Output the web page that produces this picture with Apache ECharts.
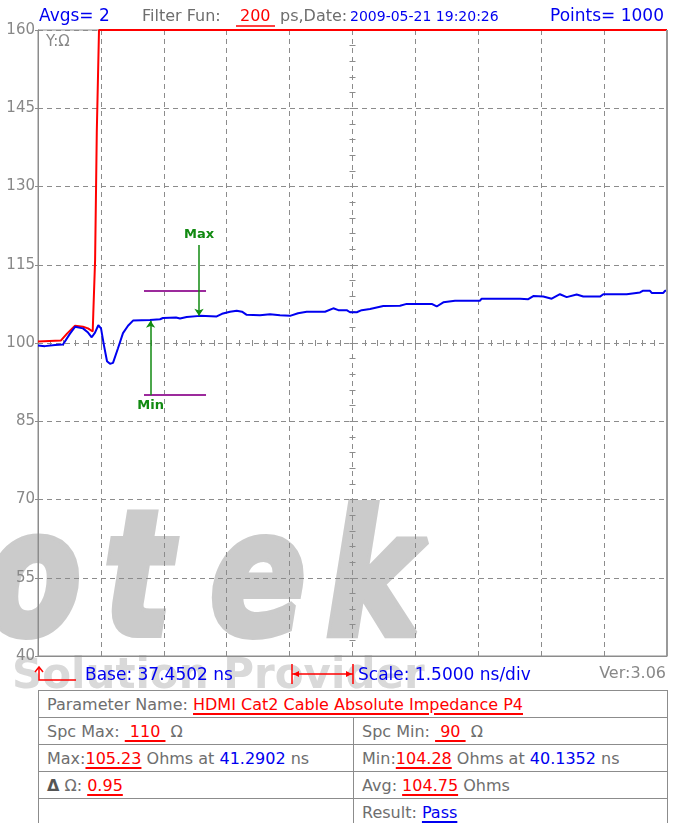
<!DOCTYPE html>
<html>
<head>
<meta charset="utf-8">
<script src="https://cdn.jsdelivr.net/npm/echarts@6/dist/echarts.min.js"></script>
<style>
  body { margin: 0; background: #fff; }
  #wrap { position: relative; width: 676px; height: 823px; overflow: hidden; }
  #chart { position: absolute; left: 0; top: 0; width: 676px; height: 823px; }
  table.params {
    position: absolute; left: 38px; top: 690px; width: 630px;
    border-collapse: collapse; background: #fff;
    font: 16px "DejaVu Sans", sans-serif; color: #6e6e6e;
  }
  table.params td { border: 1.5px solid #8c8c8c; height: 26px; padding: 0 0 0 8px; white-space: nowrap; }
  .r { color: #f00; text-decoration: underline; text-decoration-thickness: 1.5px; text-underline-offset: 3px; }
  .b { color: #0000f0; }
  .u { text-decoration: underline; text-decoration-thickness: 1.5px; text-underline-offset: 3px; }
</style>
</head>
<body>
<div id="wrap">
  <div id="chart"></div>
  <table class="params" id="params"></table>
</div>
<script>
// time base and scale of the screen (ns)
const BASE_NS = 37.4502;
const NS_PER_DIV = 1.5;
const DIVS = 10;
const yTicks = [40, 55, 70, 85, 100, 115, 130, 145, 160];

// blue trace: impedance (ohm) vs time (ns)
const traceTime = [37.450, 37.617, 37.856, 38.046, 38.213, 38.333, 38.523, 38.643, 38.731, 38.810,
  38.888, 38.953, 39.024, 39.096, 39.167, 39.239, 39.358, 39.477, 39.597, 39.716,
  40.121, 40.360, 40.431, 40.741, 40.837, 40.996, 41.314, 41.712, 41.838, 42.029,
  42.189, 42.315, 42.427, 42.744, 42.983, 43.221, 43.460, 43.651, 43.858, 44.295,
  44.492, 44.612, 44.812, 44.891, 45.051, 45.170, 45.368, 45.685, 46.083, 46.243,
  46.839, 46.958, 47.116, 47.395, 47.991, 48.031, 48.945, 49.142, 49.262, 49.500,
  49.700, 49.898, 50.058, 50.296, 50.454, 50.852, 50.931, 51.489, 51.528, 51.807,
  51.871, 52.045, 52.085, 52.362, 52.402, 52.450];
const traceOhm = [99.5, 99.4, 99.6, 99.7, 101.8, 103.1, 102.8, 102.0, 101.1, 102.0,
  103.4, 102.8, 99.5, 96.5, 96.0, 96.2, 99.0, 101.9, 103.3, 104.3,
  104.4, 104.55, 104.8, 104.9, 104.7, 105.0, 105.2, 105.1, 105.6, 106.0,
  106.2, 106.0, 105.4, 105.3, 105.5, 105.3, 105.2, 105.7, 106.0, 106.0,
  106.65, 106.3, 106.3, 105.9, 105.9, 106.3, 106.5, 107.1, 107.15, 107.5,
  107.5, 107.0, 107.8, 108.1, 108.1, 108.5, 108.5, 108.4, 109.0, 108.9,
  108.5, 109.35, 108.8, 109.3, 108.9, 108.9, 109.35, 109.35, 109.7, 109.7,
  110.0, 110.0, 109.6, 109.6, 110.0, 110.0];

// red trace (open end reference)
const refTime = [37.450, 37.999, 38.142, 38.333, 38.523, 38.643, 38.755, 38.769, 38.805, 38.812,
  38.845, 38.852, 38.895, 38.905, 52.450];
const refOhm = [100.3, 100.5, 101.8, 103.3, 103.1, 102.8, 102.2, 105.7, 105.9, 115.9,
  116.2, 140.3, 140.6, 160, 160];

// spec limits and measured max / min
const specMax = 110;
const specMin = 90;
const specSpanNs = [39.978, 41.457];
const maxPoint = [41.2902, 105.23];
const minPoint = [40.1352, 104.28];
const markerEnds = [118.8, 90];
const deltaOhm = 0.95;
const avgOhm = 104.75;
const paramName = 'HDMI Cat2 Cable Absolute Impedance P4';

const GRAY = '#8c8c8c';
const TXT = '#6e6e6e';
const BLUE = '#0000f0';
const RED = '#ff0000';
const GREEN = '#118a11';
const PURPLE = '#9c2a9c';

const toXY = (ts, vs) => ts.map((t, i) => [t - BASE_NS, vs[i]]);

function txt(x, y, text, color, size, align) {
  return {
    type: 'text', x: x, y: y, z: 10, silent: true,
    style: { text: text, fill: color, font: size + 'px "DejaVu Sans"', align: align || 'left', verticalAlign: 'middle' }
  };
}
function seg(points, color, w) {
  return { type: 'polyline', z: 10, silent: true, shape: { points: points }, style: { stroke: color, lineWidth: w || 1.5, fill: null } };
}
function mark(x, ch) {
  return {
    type: 'text', x: x, y: 589, scaleX: 0.82, z: -1, silent: true,
    style: { text: ch, font: 'italic bold 172px "DejaVu Sans"', fill: '#cbcbcb', stroke: '#cbcbcb', lineWidth: 8, verticalAlign: 'middle' }
  };
}

const chart = echarts.init(document.getElementById('chart'));

const xMax = NS_PER_DIV * DIVS;

chart.setOption({
  animation: false,
  grid: { left: 38, top: 30, width: 629, height: 626, show: true, borderColor: GRAY, borderWidth: 1 },
  xAxis: [
    {
      type: 'value', min: 0, max: xMax, interval: NS_PER_DIV,
      axisLine: { show: true, onZero: false, lineStyle: { color: GRAY } },
      axisTick: { show: false }, axisLabel: { show: false },
      splitLine: { show: true, lineStyle: { color: GRAY, type: [5, 4], width: 1 } }
    },
    {
      // minor ticks along the centre horizontal line
      type: 'value', min: 0, max: xMax, interval: NS_PER_DIV, position: 'bottom', offset: -316,
      axisLine: { show: false, onZero: false },
      axisTick: { show: true, length: 6, lineStyle: { color: GRAY } },
      minorTick: { show: true, splitNumber: 5, length: 6, lineStyle: { color: GRAY } },
      axisLabel: { show: false }, splitLine: { show: false }
    }
  ],
  yAxis: [
    {
      type: 'value', min: yTicks[0], max: yTicks[yTicks.length - 1], interval: 15,
      axisLine: { show: true, onZero: false, lineStyle: { color: GRAY } },
      axisTick: { show: true, length: 3, lineStyle: { color: GRAY } },
      axisLabel: { color: '#888', fontSize: 15, fontFamily: 'DejaVu Sans', margin: 3 },
      splitLine: { show: true, lineStyle: { color: GRAY, type: [5, 4], width: 1 } }
    },
    {
      // minor ticks along the centre vertical line
      type: 'value', min: yTicks[0], max: yTicks[yTicks.length - 1], interval: 15, position: 'left', offset: -317.5,
      axisLine: { show: false, onZero: false },
      axisTick: { show: true, length: 6, lineStyle: { color: GRAY } },
      minorTick: { show: true, splitNumber: 5, length: 6, lineStyle: { color: GRAY } },
      axisLabel: { show: false }, splitLine: { show: false }
    }
  ],
  series: [
    {
      name: 'Reference', type: 'line', data: toXY(refTime, refOhm),
      showSymbol: false, z: 3,
      lineStyle: { color: RED, width: 2 }
    },
    {
      name: 'Impedance', type: 'line', data: toXY(traceTime, traceOhm),
      showSymbol: false, z: 4,
      lineStyle: { color: BLUE, width: 2 },
      markLine: {
        silent: true, animation: false, symbol: ['none', 'none'], symbolSize: 7,
        label: { show: false },
        data: [
          [{ coord: [specSpanNs[0] - BASE_NS, specMax], lineStyle: { color: PURPLE, width: 2, type: 'solid' } },
           { coord: [specSpanNs[1] - BASE_NS, specMax] }],
          [{ coord: [specSpanNs[0] - BASE_NS, specMin], lineStyle: { color: PURPLE, width: 2, type: 'solid' } },
           { coord: [specSpanNs[1] - BASE_NS, specMin] }],
          [{ coord: [maxPoint[0] - BASE_NS, markerEnds[0]], symbol: 'none',
             lineStyle: { color: GREEN, width: 1.5, type: 'solid' },
             label: { show: true, formatter: 'Max', position: 'start', color: GREEN, fontSize: 13, fontWeight: 'bold', fontFamily: 'DejaVu Sans', distance: 4 } },
           { coord: [maxPoint[0] - BASE_NS, maxPoint[1]], symbol: 'arrow' }],
          [{ coord: [minPoint[0] - BASE_NS, markerEnds[1]], symbol: 'none',
             lineStyle: { color: GREEN, width: 1.5, type: 'solid' },
             label: { show: true, formatter: 'Min', position: 'start', color: GREEN, fontSize: 13, fontWeight: 'bold', fontFamily: 'DejaVu Sans', distance: 4 } },
           { coord: [minPoint[0] - BASE_NS, minPoint[1]], symbol: 'arrow' }]
        ]
      }
    }
  ],
  graphic: [
    // watermark
    mark(-16, 'o'), mark(104, 't'), mark(210, 'e'), mark(326, 'k'),
    { type: 'text', x: 12, y: 677, z: -1, silent: true,
      style: { text: 'Solution Provider', font: 'bold 42px "DejaVu Sans"', fill: '#d9d9d9', verticalAlign: 'middle' } },
    // header
    txt(39, 17, 'Avgs= 2', BLUE, 17),
    txt(142, 17, 'Filter Fun:', TXT, 16),
    txt(240, 17, '200', RED, 16),
    seg([[236, 26], [275, 26]], RED, 1.5),
    txt(280, 17, 'ps,Date:', TXT, 16),
    txt(350, 17, '2009-05-21 19:20:26', BLUE, 14),
    txt(664, 17, 'Points= 1000', BLUE, 17, 'right'),
    txt(46, 42, 'Y:Ω', '#888', 15),
    // right border
    seg([[667, 30], [667, 656]], '#999', 2),
    // base marker
    seg([[39, 668], [39, 680], [76, 680]], RED, 1.5),
    seg([[35, 672], [39, 667], [43, 672]], RED, 1.5),
    txt(85, 676, 'Base: ' + BASE_NS.toFixed(4) + ' ns', BLUE, 17),
    // scale marker (one division)
    seg([[292, 664], [292, 684]], RED, 1.5),
    seg([[353, 664], [353, 684]], RED, 1.5),
    seg([[292, 674], [353, 674]], RED, 1.5),
    { type: 'polygon', z: 10, silent: true, shape: { points: [[293, 674], [299, 671], [299, 677]] }, style: { fill: RED } },
    { type: 'polygon', z: 10, silent: true, shape: { points: [[352, 674], [346, 671], [346, 677]] }, style: { fill: RED } },
    txt(358, 676, 'Scale: ' + NS_PER_DIV.toFixed(4) + ' ns/div', BLUE, 17),
    txt(666, 674, 'Ver:3.06', '#888', 16, 'right')
  ]
});

// parameter table under the chart
const nb = '&nbsp;';
document.getElementById('params').innerHTML =
  '<tr><td colspan="2">Parameter Name: <span class="r">' + paramName + '</span></td></tr>' +
  '<tr><td style="width:306px">Spc Max: <span class="r">' + nb + specMax + nb + '</span> Ω</td>' +
  '<td>Spc Min: <span class="r">' + nb + specMin + nb + '</span> Ω</td></tr>' +
  '<tr><td>Max:<span class="r">' + maxPoint[1].toFixed(2) + '</span> Ohms at <span class="b">' + maxPoint[0].toFixed(4) + '</span> ns</td>' +
  '<td>Min:<span class="r">' + minPoint[1].toFixed(2) + '</span> Ohms at <span class="b">' + minPoint[0].toFixed(4) + '</span> ns</td></tr>' +
  '<tr><td><b style="color:#555">Δ</b> Ω: <span class="r">' + deltaOhm.toFixed(2) + '</span></td>' +
  '<td>Avg: <span class="r">' + avgOhm.toFixed(2) + '</span> Ohms</td></tr>' +
  '<tr><td></td><td>Result: <span class="b u">Pass</span></td></tr>';
</script>
</body>
</html>
